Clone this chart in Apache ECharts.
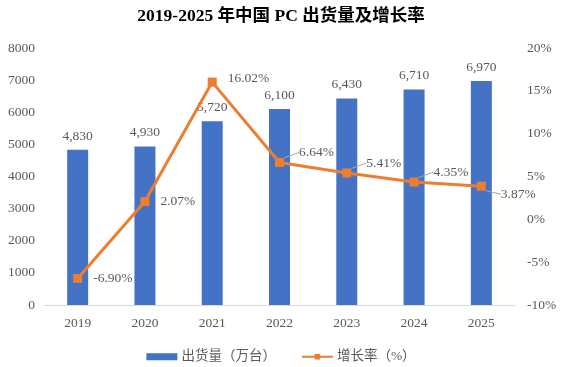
<!DOCTYPE html>
<html><head><meta charset="utf-8">
<script src="https://cdn.jsdelivr.net/npm/echarts@6/dist/echarts.min.js"></script>
<style>html,body{margin:0;padding:0;background:#fff}#c{width:562px;height:367px}</style>
</head><body><div id="c"></div>
<script>
const categories = ['2019','2020','2021','2022','2023','2024','2025'];
const shipments = [4830, 4930, 5720, 6100, 6430, 6710, 6970];
const growth = [-6.90, 2.07, 16.02, 6.64, 5.41, 4.35, 3.87];
const leftTicks = [0, 8000, 1000];
const rightTicks = [-10, 20, 5];

const FONT = '"Liberation Serif", "Times New Roman", "Noto Sans CJK SC", serif';
const GREY = '#595959';
const labelShift = [[0,0],[0,0],[0,-4],[4,-10],[4,-10],[4,-10],[4,8]];
const hasLeader = [false, false, false, true, true, true, true];

const chart = echarts.init(document.getElementById('c'));
chart.setOption({
  animation: false,
  textStyle: { fontFamily: FONT },
  title: {
    text: '2019-2025 年中国 PC 出货量及增长率',
    left: 'center', top: 3,
    textStyle: { fontFamily: FONT, fontSize: 17.5, fontWeight: 'bold', color: '#000' }
  },
  legend: {
    top: 345, left: 'center', itemGap: 25,
    itemWidth: 31, itemHeight: 7,
    textStyle: { fontFamily: FONT, fontSize: 13.5, color: GREY, padding: [0,0,0,-1] },
    data: [
      { name: '出货量（万台）', icon: 'rect' },
      { name: '增长率（%）' }
    ]
  },
  grid: { left: 44, right: 47, top: 48, bottom: 62 },
  xAxis: {
    type: 'category', data: categories,
    axisTick: { show: false },
    axisLine: { lineStyle: { color: '#d9d9d9', width: 1 } },
    axisLabel: { color: GREY, fontSize: 13.5, fontFamily: FONT, margin: 12 }
  },
  yAxis: [
    { type: 'value', min: leftTicks[0], max: leftTicks[1], interval: leftTicks[2],
      splitLine: { show: false }, axisLine: { show: false }, axisTick: { show: false },
      axisLabel: { color: GREY, fontSize: 13.5, fontFamily: FONT, margin: 9, formatter: v => String(v) } },
    { type: 'value', min: rightTicks[0], max: rightTicks[1], interval: rightTicks[2],
      splitLine: { show: false }, axisLine: { show: false }, axisTick: { show: false },
      axisLabel: { color: GREY, fontSize: 13.5, fontFamily: FONT, margin: 12, formatter: '{value}%' } }
  ],
  series: [
    { name: '出货量（万台）', type: 'bar', data: shipments, barWidth: 21,
      itemStyle: { color: '#4472C4' },
      label: { show: true, position: 'top', distance: 7, color: GREY, fontSize: 13.5, fontFamily: FONT,
        formatter: p => p.value.toLocaleString('en-US') } },
    { name: '增长率（%）', type: 'line', yAxisIndex: 1,
      data: growth.map((v, i) => ({ value: v, labelLine: { show: hasLeader[i] } })),
      symbol: 'rect', symbolSize: 9,
      lineStyle: { color: '#ED7D31', width: 3 },
      itemStyle: { color: '#ED7D31' },
      label: { show: true, position: 'right', distance: 8, padding: [0,0,0,3], color: GREY, fontSize: 13.5, fontFamily: FONT,
        formatter: p => p.value.toFixed(2) + '%' },
      labelLine: { show: true, lineStyle: { color: '#a6a6a6', width: 1 } },
      labelLayout: p => ({ dx: labelShift[p.dataIndex][0], dy: labelShift[p.dataIndex][1] }) }
  ]
});
</script></body></html>
